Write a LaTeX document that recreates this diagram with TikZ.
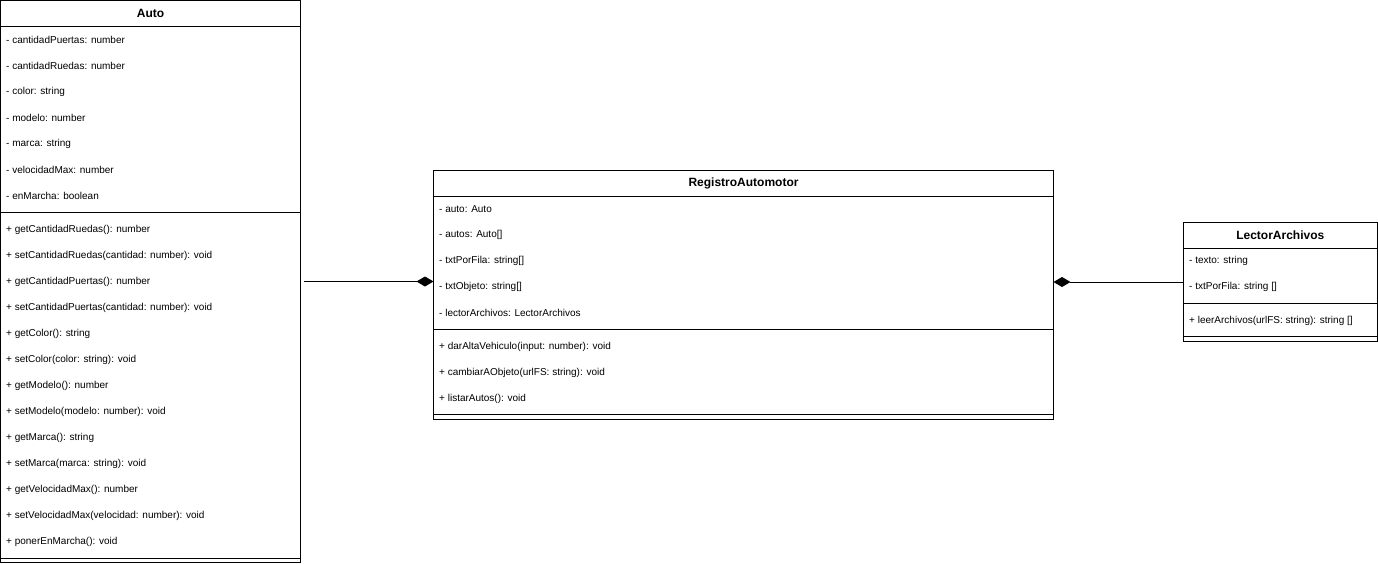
\documentclass[tikz,border=0pt]{standalone}
\usepackage{fontspec}
\setmainfont{Liberation Sans}
\usetikzlibrary{arrows.meta}
\begin{document}
\begin{tikzpicture}[x=1pt,y=-1pt,
  classbox/.style={draw, line width=1pt, anchor=north west, inner sep=0pt, outer sep=0pt},
  sepline/.style={line width=1pt},
  attr/.style={anchor=west, inner sep=0pt, yshift=-0.8pt, font=\fontsize{10}{12}\selectfont},
  head/.style={inner sep=0pt, font=\bfseries\fontsize{12}{14}\selectfont},
  comp/.style={line width=1pt, -{Diamond[length=17pt,width=10pt]}}]
\useasboundingbox (0,0) rectangle (1378,563);

% ---------- Auto ----------
\node[classbox, minimum width=300pt, minimum height=562pt] (auto) at (0.5,0.5) {};
\draw[sepline] (0.5,26.5) -- (300.5,26.5);
\draw[sepline] (0.5,212.5) -- (300.5,212.5);
\draw[sepline] (0.5,558.5) -- (300.5,558.5);
\node[head] (autoh) at (150.5,13.5) {Auto};
\foreach \t [count=\i] in {- cantidadPuertas: number, - cantidadRuedas: number, - color: string, - modelo: number, - marca: string, - velocidadMax: number, - enMarcha: boolean}
  \node[attr] (autoa\i) at (6,13+26*\i) {\t};
\foreach \t [count=\i] in {+ getCantidadRuedas(): number, + setCantidadRuedas(cantidad: number): void, + getCantidadPuertas(): number, + setCantidadPuertas(cantidad: number): void, + getColor(): string, + setColor(color: string): void, + getModelo(): number, + setModelo(modelo: number): void, + getMarca(): string, + setMarca(marca: string): void, + getVelocidadMax(): number, + setVelocidadMax(velocidad: number): void, + ponerEnMarcha(): void}
  \node[attr] (autom\i) at (6,203+26*\i) {\t};

% ---------- RegistroAutomotor ----------
\node[classbox, minimum width=620pt, minimum height=249pt] (reg) at (433.5,170.5) {};
\draw[sepline] (433.5,196.5) -- (1053.5,196.5);
\draw[sepline] (433.5,329.5) -- (1053.5,329.5);
\draw[sepline] (433.5,414.5) -- (1053.5,414.5);
\node[head] (regh) at (743.5,183.5) {RegistroAutomotor};
\foreach \t [count=\i] in {- auto: Auto, - autos: Auto[], - txtPorFila: string[], - txtObjeto: string[], - lectorArchivos: LectorArchivos}
  \node[attr] (rega\i) at (439,182+26*\i) {\t};
\foreach \t [count=\i] in {+ darAltaVehiculo(input: number): void, + cambiarAObjeto(urlFS: string): void, + listarAutos(): void}
  \node[attr] (regm\i) at (439,320+26*\i) {\t};

% ---------- LectorArchivos ----------
\node[classbox, minimum width=193.5pt, minimum height=119pt] (lec) at (1183.5,222.5) {};
\draw[sepline] (1183.5,248.5) -- (1377,248.5);
\draw[sepline] (1183.5,303.5) -- (1377,303.5);
\draw[sepline] (1183.5,336.5) -- (1377,336.5);
\node[head] (lech) at (1280.25,235.5) {LectorArchivos};
\node[attr] (leca1) at (1189,260) {- texto: string};
\node[attr] (leca2) at (1189,286) {- txtPorFila: string []};
\node[attr] (lecm1) at (1189,320) {+ leerArchivos(urlFS: string): string []};

% ---------- connectors ----------
\coordinate (a1) at (304,281.5);
\draw[comp] (a1) -- (a1 -| reg.west);
\draw[comp] (lec.west) -- (lec.west -| reg.east);
\end{tikzpicture}
\end{document}
